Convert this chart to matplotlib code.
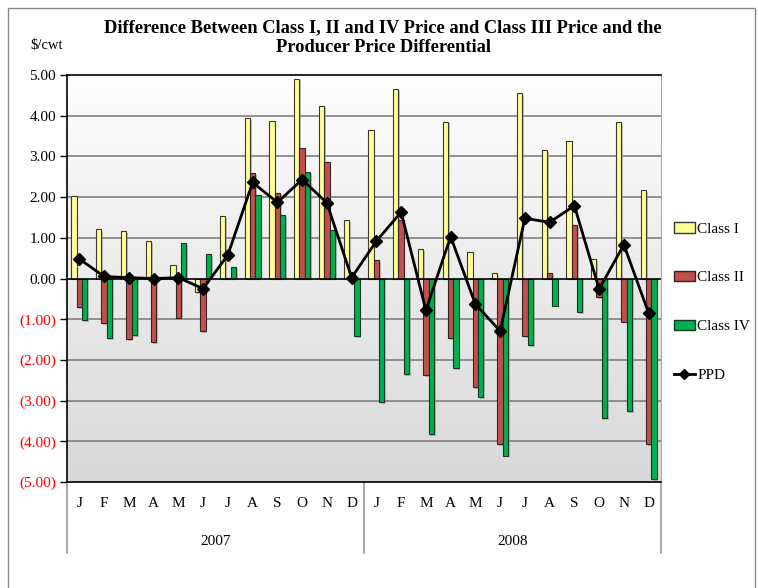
import numpy as np
import matplotlib.pyplot as plt
from matplotlib.patches import Rectangle, Patch
from matplotlib.lines import Line2D
import matplotlib.patheffects as pe

plt.rcParams['font.family'] = ['Liberation Serif', 'DejaVu Serif']

months = ['J', 'F', 'M', 'A', 'M', 'J', 'J', 'A', 'S', 'O', 'N', 'D'] * 2
years = ['2007', '2008']

class_1 = [2.03, 1.22, 1.16, 0.92, 0.33, -0.33, 1.53, 3.94, 3.86, 4.91, 4.25, 1.44,
           3.66, 4.65, 0.72, 3.85, 0.65, 0.13, 4.55, 3.15, 3.37, 0.47, 3.84, 2.17]
class_2 = [-0.70, -1.10, -1.49, -1.56, -0.97, -1.29, 0.02, 2.59, 2.10, 3.20, 2.86, 0.15,
           0.45, 1.43, -2.38, -1.47, -2.67, -4.07, -1.42, 0.13, 1.31, -0.46, -1.06, -4.07]
class_4 = [-1.02, -1.46, -1.39, 0.00, 0.87, 0.60, 0.28, 2.05, 1.55, 2.61, 1.19, -1.41,
           -3.04, -2.35, -3.82, -2.21, -2.92, -4.35, -1.64, -0.67, -0.83, -3.43, -3.26, -4.93]
ppd = [0.48, 0.05, 0.02, 0.00, 0.02, -0.25, 0.58, 2.36, 1.87, 2.43, 1.86, 0.02,
       0.92, 1.63, -0.78, 1.03, -0.63, -1.29, 1.48, 1.38, 1.79, -0.26, 0.83, -0.85]

fig = plt.figure(figsize=(7.58, 5.88), dpi=100)
ax = fig.add_axes([67/758, 1-482/588, 594/758, 407/588])

# gradient background
grad = np.linspace(0, 1, 256).reshape(-1, 1)
ax.imshow(grad, extent=[-0.5, 23.5, -5, 5], aspect='auto', cmap=plt.cm.colors.LinearSegmentedColormap.from_list(
    'bg', ['#fefefe', '#d8d8d8']), origin='upper', zorder=0)

for v in range(-4, 5):
    if v != 0:
        ax.axhline(v, color='#808080', lw=1.2, zorder=1)

x = np.arange(24)
w = 0.215
shadow = [pe.SimplePatchShadow(offset=(1.2, -1.2), shadow_rgbFace='#999999', alpha=0.6), pe.Normal()]
ax.bar(x - w, class_1, w, color='#FFFF99', edgecolor='#3a3a2a', lw=0.8, zorder=2, path_effects=shadow)
ax.bar(x, class_2, w, color='#C0504D', edgecolor='#3a2020', lw=0.8, zorder=2, path_effects=shadow)
ax.bar(x + w, class_4, w, color='#00B050', edgecolor='#103a20', lw=0.8, zorder=2, path_effects=shadow)
ax.axhline(0, color='black', lw=1.2, zorder=3)
ax.plot(x, ppd, color='black', lw=2, marker='D', ms=6, zorder=4)

ax.set_xlim(-0.5, 23.5)
ax.set_ylim(-5, 5)
ax.set_xticks([])
yt = np.arange(-5, 6)
ax.set_yticks(yt)
ax.set_yticklabels([f'{v:.2f}' if v >= 0 else f'({abs(v):.2f})' for v in yt], fontsize=11)
for lab, v in zip(ax.get_yticklabels(), yt):
    if v < 0:
        lab.set_color('red')
ax.tick_params(axis='y', length=5, width=1, direction='out', pad=3)
for s in ['left', 'bottom', 'top']:
    ax.spines[s].set_color('black')
    ax.spines[s].set_linewidth(1.2)
ax.spines['right'].set_color('#aaaaaa')

# category labels
tr = ax.get_xaxis_transform()
for i, m in enumerate(months):
    ax.text(i, -0.054, m, transform=tr, ha='center', va='center', fontsize=11)
for j, yr in enumerate(years):
    ax.text(5.5 + 12*j, -0.145, yr, transform=tr, ha='center', va='center', fontsize=11)
for xs in [-0.5, 11.5, 23.5]:
    ax.plot([xs, xs], [0, -0.175], transform=tr, color='#999999', lw=1.2, clip_on=False)

fig.text(383/758, 1-28/588, 'Difference Between Class I, II and IV Price and Class III Price and the',
         ha='center', va='center', fontsize=13.3, fontweight='bold')
fig.text(383/758, 1-48/588, 'Producer Price Differential',
         ha='center', va='center', fontsize=13.3, fontweight='bold')
fig.text(30/758, 1-46/588, '$/cwt', ha='left', va='center', fontsize=10.5)

handles = [Patch(facecolor='#FFFF99', edgecolor='#3a3a2a', label='Class I'),
           Patch(facecolor='#C0504D', edgecolor='#3a2020', label='Class II'),
           Patch(facecolor='#00B050', edgecolor='#103a20', label='Class IV'),
           Line2D([], [], color='black', lw=2, marker='D', ms=5, label='PPD')]
fig.legend(handles=handles, loc='center left', bbox_to_anchor=(666/758, 1-302/588), frameon=False,
           fontsize=11, labelspacing=2.3, handlelength=1.4, handletextpad=0.15, borderpad=0)

fig.add_artist(Rectangle((8/758, -0.05), 747/758, 1.05-8/588, transform=fig.transFigure,
                         fill=False, edgecolor='#888888', lw=1))

fig.savefig('out.png', dpi=100)
